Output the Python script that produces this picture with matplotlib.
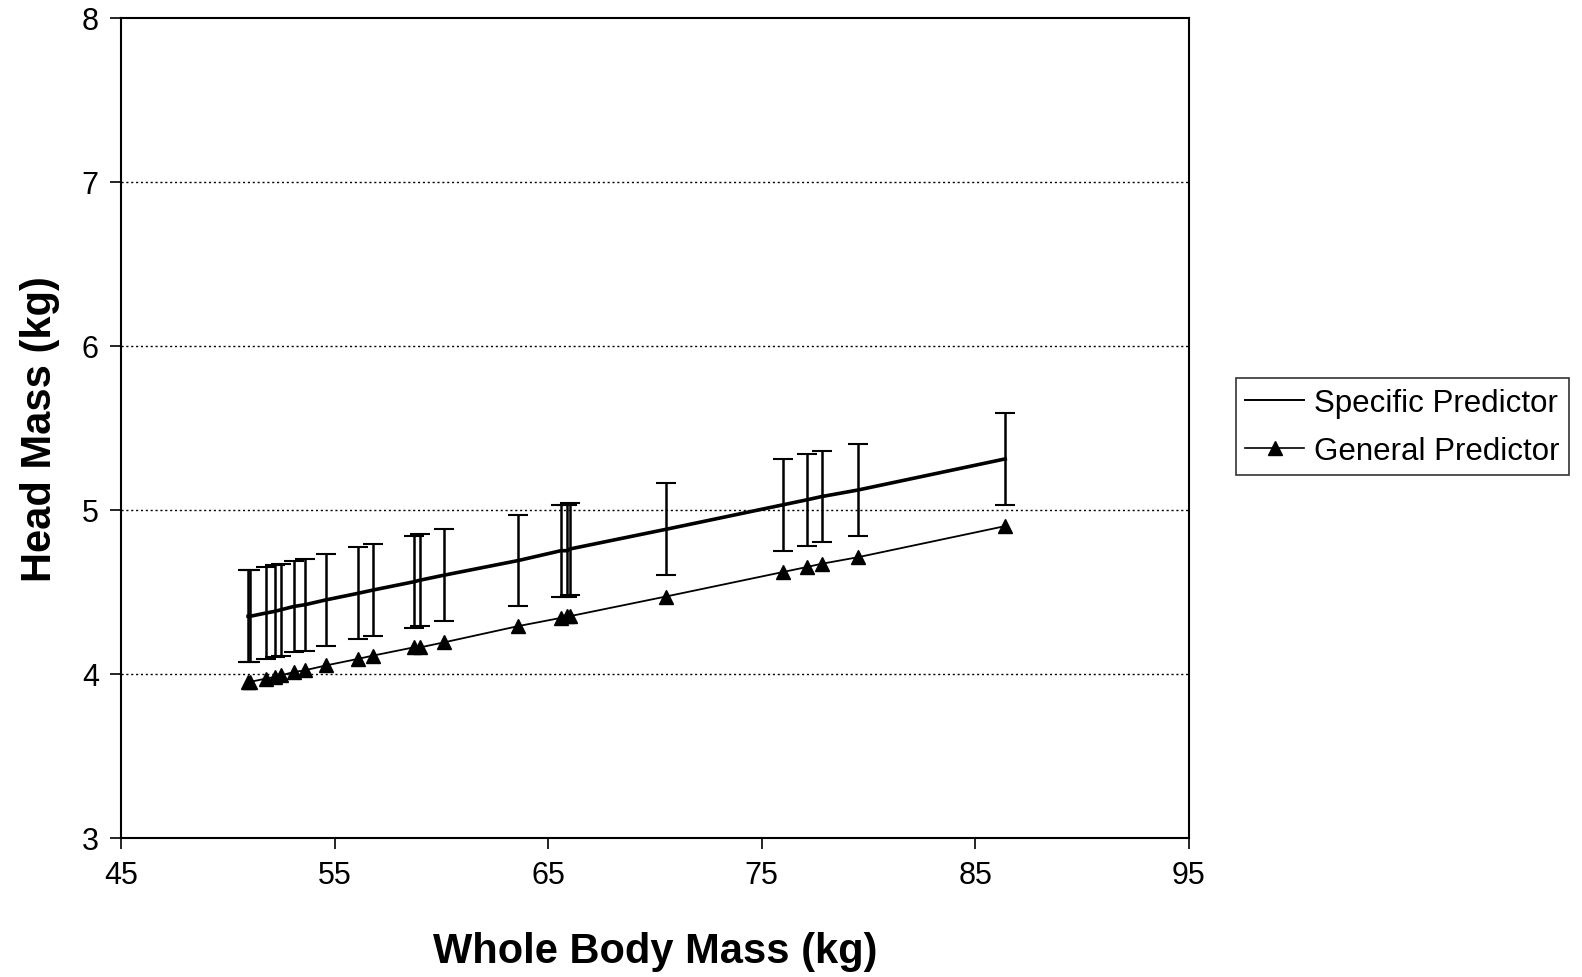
import matplotlib.pyplot as plt
from matplotlib.lines import Line2D

plt.rcParams['font.family'] = ['Liberation Sans', 'DejaVu Sans']

# whole body mass of each subject (kg)
body_mass = [50.95, 51.05, 51.8, 52.2, 52.5, 53.1, 53.6, 54.6, 56.1, 56.8,
             58.7, 59.0, 60.1, 63.6, 65.6, 65.9, 66.0, 70.5, 76.0, 77.1,
             77.8, 79.5, 86.4]

# head mass from the subject-specific regression (kg)
specific = [4.35, 4.35, 4.37, 4.38, 4.39, 4.41, 4.42, 4.45, 4.49, 4.51,
            4.56, 4.57, 4.60, 4.69, 4.75, 4.75, 4.76, 4.88, 5.03, 5.06,
            5.08, 5.12, 5.31]
specific_err = [0.28] * len(body_mass)

# head mass from the general regression (kg)
general = [3.95, 3.95, 3.97, 3.98, 3.99, 4.01, 4.02, 4.05, 4.09, 4.11,
           4.16, 4.16, 4.19, 4.29, 4.34, 4.35, 4.35, 4.47, 4.62, 4.65,
           4.67, 4.71, 4.90]

x_ticks = [45, 55, 65, 75, 85, 95]
y_ticks = [3, 4, 5, 6, 7, 8]

fig = plt.figure(figsize=(15.82, 9.78), dpi=100)
ax = fig.add_axes([0.0765, 0.1426, 0.675, 0.838])

for y in [4, 5, 6, 7]:
    ax.axhline(y, color='black', lw=1.0, ls=(0, (1.5, 2)), zorder=0)

ax.errorbar(body_mass, specific, yerr=specific_err, color='black', lw=2.6,
            elinewidth=1.8, capsize=7, capthick=1.5, zorder=3)
ax.plot(body_mass, general, color='black', lw=1.3, marker='^', markersize=10,
        zorder=3)

ax.set_xlim(45, 95)
ax.set_ylim(3, 8)
ax.set_xticks(x_ticks)
ax.set_yticks(y_ticks)
ax.tick_params(direction='out', length=8, width=1.2, labelsize=22, pad=8)
for s in ax.spines.values():
    s.set_linewidth(1.5)

ax.set_xlabel('Whole Body Mass (kg)', fontsize=30, fontweight='bold', labelpad=30)
ax.set_ylabel('Head Mass (kg)', fontsize=30, fontweight='bold', labelpad=16)

handles = [Line2D([], [], color='black', lw=1.4),
           Line2D([], [], color='black', lw=1.2, marker='^', markersize=10)]
labels = ['Specific Predictor', 'General Predictor']
leg = fig.legend(handles, labels, loc='upper left', bbox_to_anchor=(0.781, 0.612),
                 fontsize=22.5, frameon=True, fancybox=False, edgecolor='black',
                 handlelength=1.9, handletextpad=0.3, borderpad=0.3,
                 labelspacing=0.58, borderaxespad=0)
leg.get_frame().set_linewidth(1.2)

fig.savefig('out.png', dpi=100)
